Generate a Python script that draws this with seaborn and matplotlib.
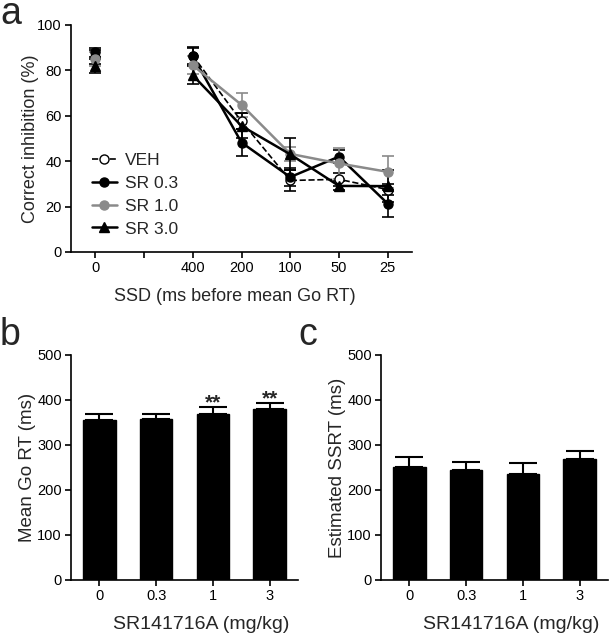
import matplotlib
matplotlib.use('Agg')
import matplotlib.pyplot as plt
import seaborn as sns
import pandas as pd
import numpy as np

# panel a: correct inhibition (%) by SSD
ssd_tick_labels = ['0', '', '400', '200', '100', '50', '25']
groups = ['VEH', 'SR 0.3', 'SR 1.0', 'SR 3.0']
base_mean = [86.0, 88.0, 85.0, 82.0]
base_err = [3.0, 2.0, 3.0, 3.0]
veh_mean = [86.5, 57.5, 31.5, 32.0, 27.5]
veh_err = [3.5, 3.5, 4.7, 3.0, 2.5]
sr03_mean = [86.3, 48.2, 33.0, 42.0, 21.3]
sr03_err = [4.0, 6.0, 4.0, 3.0, 6.0]
sr10_mean = [82.2, 64.8, 43.2, 39.0, 35.3]
sr10_err = [4.0, 5.2, 3.0, 7.0, 7.0]
sr30_mean = [77.8, 55.5, 43.0, 29.1, 29.0]
sr30_err = [4.0, 5.5, 7.0, 2.0, 7.0]

# panels b, c
doses = ['0', '0.3', '1', '3']
go_rt = [355, 357, 369, 379]
go_rt_err = [13, 11, 16, 15]
go_rt_sig = ['', '', '**', '**']
ssrt = [252, 244, 236, 268]
ssrt_err = [22, 19, 23, 18]

sns.set_style('ticks')
plt.rcParams['font.family'] = ['Liberation Sans', 'DejaVu Sans']
plt.rcParams['axes.linewidth'] = 1.2
plt.rcParams['xtick.major.width'] = 1.2
plt.rcParams['ytick.major.width'] = 1.2
plt.rcParams['xtick.major.size'] = 4
plt.rcParams['ytick.major.size'] = 4
plt.rcParams['xtick.labelsize'] = 10.5
plt.rcParams['ytick.labelsize'] = 10.5

fig = plt.figure(figsize=(6.09, 6.36), dpi=100)
ax_a = fig.add_axes([0.1166, 0.6038, 0.560, 0.357])
ax_b = fig.add_axes([0.1166, 0.0881, 0.3727, 0.3538])
ax_c = fig.add_axes([0.6256, 0.0881, 0.3727, 0.3538])

styles = {
    'VEH': dict(color='black', linestyle='--', marker='o', markerfacecolor='white', lw=1.2),
    'SR 0.3': dict(color='black', linestyle='-', marker='o', markerfacecolor='black', lw=1.8),
    'SR 1.0': dict(color='#8a8a8a', linestyle='-', marker='o', markerfacecolor='#8a8a8a', lw=1.8),
    'SR 3.0': dict(color='black', linestyle='-', marker='^', markerfacecolor='black', lw=1.8),
}
series = {'VEH': (veh_mean, veh_err), 'SR 0.3': (sr03_mean, sr03_err),
          'SR 1.0': (sr10_mean, sr10_err), 'SR 3.0': (sr30_mean, sr30_err)}
ssd_pos = [2, 3, 4, 5, 6]

for i, g in enumerate(groups):
    st = styles[g]
    mean, err = series[g]
    ax_a.errorbar(ssd_pos, mean, yerr=err, fmt='none', ecolor=st['color'],
                  elinewidth=1.2, capsize=4, capthick=1.2, zorder=2)
    ax_a.errorbar([0], [base_mean[i]], yerr=[base_err[i]], fmt='none', ecolor=st['color'],
                  elinewidth=1.2, capsize=4, capthick=1.2, zorder=2)
    sns.lineplot(x=ssd_pos, y=mean, ax=ax_a, label=g, color=st['color'],
                 linestyle=st['linestyle'], marker=st['marker'], markersize=6.5,
                 markerfacecolor=st['markerfacecolor'], markeredgecolor=st['color'],
                 markeredgewidth=1.0, linewidth=st['lw'], zorder=3)
    ax_a.plot([0], [base_mean[i]], linestyle='none', marker=st['marker'], markersize=6.5,
              markerfacecolor=st['markerfacecolor'], markeredgecolor=st['color'], zorder=3)

ax_a.set_xlim(-0.5, 6.5)
ax_a.set_ylim(0, 100)
ax_a.set_xticks(range(7))
ax_a.set_xticklabels(ssd_tick_labels)
ax_a.set_yticks([0, 20, 40, 60, 80, 100])
ax_a.set_xlabel('SSD (ms before mean Go RT)', fontsize=13)
ax_a.set_ylabel('Correct inhibition (%)', fontsize=13)
ax_a.xaxis.set_label_coords(0.479, -0.16)
ax_a.yaxis.set_label_coords(-0.095, 0.5)
ax_a.legend(loc='center left', bbox_to_anchor=(0.042, 0.253), frameon=False,
            fontsize=12.5, handlelength=1.4, handletextpad=0.5, labelspacing=0.45,
            borderaxespad=0)


def bar_panel(ax, vals, errs, ylabel):
    sns.barplot(x=doses, y=vals, ax=ax, color='black', width=0.57,
                edgecolor='black', saturation=1, errorbar=None)
    ax.errorbar(range(len(vals)), vals, yerr=[np.zeros(len(errs)), errs], fmt='none',
                ecolor='black', elinewidth=1.5, capsize=10, capthick=1.5, zorder=1)
    ax.set_xlim(-0.5, 3.5)
    ax.set_ylim(0, 500)
    ax.set_yticks([0, 100, 200, 300, 400, 500])
    ax.set_xlabel('SR141716A (mg/kg)', fontsize=14)
    ax.set_ylabel(ylabel, fontsize=13.5)
    ax.xaxis.set_label_coords(0.575, -0.16)
    ax.yaxis.set_label_coords(-0.155, 0.5)


bar_panel(ax_b, go_rt, go_rt_err, 'Mean Go RT (ms)')
bar_panel(ax_c, ssrt, ssrt_err, 'Estimated SSRT (ms)')
for i, s in enumerate(go_rt_sig):
    if s:
        ax_b.text(i, go_rt[i] + go_rt_err[i] + 9, s, ha='center', va='center',
                  fontsize=15, fontweight='bold')

for ax in (ax_a, ax_b, ax_c):
    sns.despine(ax=ax)
    ax.tick_params(colors='black', direction='out', pad=2.5)
    for sp in ax.spines.values():
        sp.set_color('black')

fig.text(0.0, 0.963, 'a', fontsize=27, va='baseline', ha='left')
fig.text(0.0, 0.4575, 'b', fontsize=27, va='baseline', ha='left')
fig.text(0.49, 0.4575, 'c', fontsize=27, va='baseline', ha='left')

fig.savefig('out.png', dpi=100)
